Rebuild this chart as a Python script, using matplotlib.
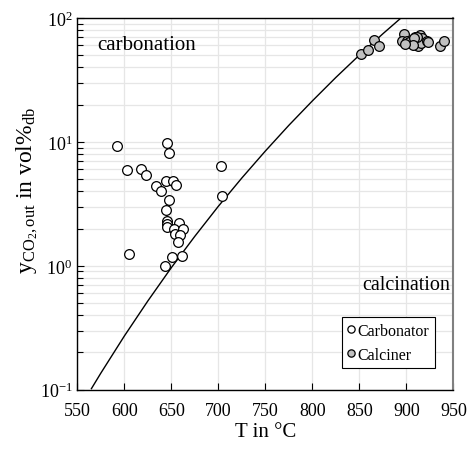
import matplotlib
matplotlib.use('Agg')
import matplotlib.pyplot as plt
from matplotlib.ticker import LogLocator, NullFormatter, MultipleLocator

plt.rcParams['font.family'] = ['Liberation Serif', 'DejaVu Serif']
plt.rcParams['mathtext.fontset'] = 'custom'
plt.rcParams['mathtext.rm'] = 'Liberation Serif'
plt.rcParams['mathtext.it'] = 'Liberation Serif:italic'
plt.rcParams['axes.unicode_minus'] = False

# ==== equilibrium line (CaO / CaCO3) ====
eq_T = [565, 575, 600, 625, 650, 675, 700, 725, 750, 775, 800, 825, 850, 875, 900]
eq_y = [0.102, 0.136, 0.271, 0.520, 0.966, 1.73, 3.02, 5.11, 8.43, 13.6, 21.4, 33.1, 50.1, 74.5, 109.0]

# ==== carbonator outlet ====
carb_T = [591.9, 645.1, 647.9, 603.2, 617.4, 623.1, 702.6, 644.0, 651.5, 655.0,
          633.4, 639.0, 647.6, 704.3, 644.4, 645.1, 645.1, 658.5, 645.1, 652.9,
          662.8, 653.9, 659.3, 656.8, 605.3, 651.1, 661.4, 643.3]
carb_y = [9.2, 9.8, 8.1, 5.9, 6.0, 5.4, 6.35, 4.86, 4.86, 4.49,
          4.43, 3.99, 3.42, 3.68, 2.84, 2.31, 2.18, 2.22, 2.05, 1.98,
          1.98, 1.81, 1.77, 1.55, 1.25, 1.18, 1.21, 1.0]

# ==== calciner outlet ====
calc_T = [851.5, 859.6, 866.0, 871.0, 897.9, 895.1, 900.4, 909.3, 914.6, 917.0,
          905.7, 912.8, 915.6, 921.7, 923.4, 935.9, 940.4, 903.2, 911.0, 908.2,
          906.8, 899.1]
calc_y = [51.2, 55.2, 66.8, 59.1, 74.3, 64.9, 64.9, 70.6, 72.9, 69.0,
          63.6, 59.8, 62.5, 65.6, 63.6, 59.8, 64.9, 64.3, 69.9, 68.6,
          60.6, 61.7]

fig = plt.figure(figsize=(4.70, 4.52), dpi=100)
ax = fig.add_axes([0.1645, 0.1356, 0.80, 0.8224])

ax.plot(eq_T, eq_y, color='black', lw=1.0, zorder=2)
ax.plot(carb_T, carb_y, 'o', ms=7.0, mfc='white', mec='black', mew=0.9,
        ls='none', label='Carbonator', zorder=3)
ax.plot(calc_T, calc_y, 'o', ms=7.0, mfc='#c0c0c0', mec='black', mew=0.9,
        ls='none', label='Calciner', zorder=3)

ax.set_yscale('log')
ax.set_xlim(550, 950)
ax.set_ylim(0.1, 100)
ax.xaxis.set_major_locator(MultipleLocator(50))
ax.yaxis.set_major_locator(LogLocator(base=10))
ax.yaxis.set_minor_locator(LogLocator(base=10, subs=range(2, 10)))
ax.yaxis.set_minor_formatter(NullFormatter())

ax.grid(True, which='major', color='#e6e6e6', lw=0.9, zorder=0)
ax.grid(True, which='minor', axis='y', color='#e6e6e6', lw=0.9, zorder=0)
ax.set_axisbelow(True)

ax.tick_params(which='both', direction='in', top=False, right=False, labelsize=13)
ax.tick_params(which='major', length=5, width=0.8)
ax.tick_params(which='minor', length=4, width=0.8)
ax.tick_params(axis='x', pad=9)

for s in ['left', 'bottom', 'top']:
    ax.spines[s].set_color('black')
    ax.spines[s].set_linewidth(1.0)
ax.spines['right'].set_color('#808080')
ax.spines['right'].set_linewidth(1.5)

ax.set_xlabel('T in °C', fontsize=15, labelpad=2)
ax.set_ylabel(r'$\mathrm{y_{CO_2,out}\ in\ vol\%_{db}}$', fontsize=17)
ax.yaxis.set_label_coords(-0.10, 0.54)

ax.text(571, 61.6, 'carbonation', fontsize=15, va='center', ha='left')
ax.text(853, 0.713, 'calcination', fontsize=14.5, va='center', ha='left')

leg = ax.legend(loc='lower right', bbox_to_anchor=(0.951, 0.058), borderaxespad=0,
                fontsize=11.5, markerscale=0.75, handlelength=0.5, handletextpad=0.15,
                borderpad=0.35, labelspacing=0.5, fancybox=False, framealpha=1)
leg.get_frame().set_edgecolor('black')
leg.get_frame().set_linewidth(0.8)

plt.savefig('out.png', dpi=100)
